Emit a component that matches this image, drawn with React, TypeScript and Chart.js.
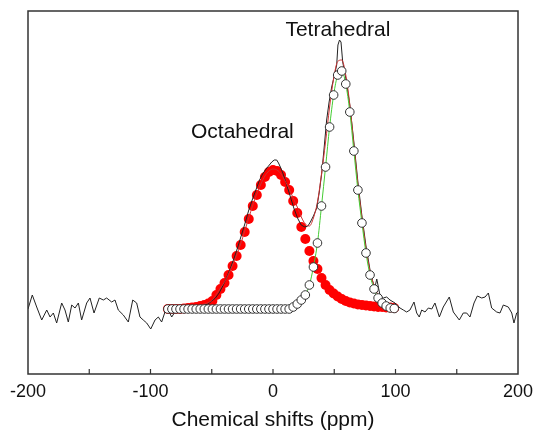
import React, { useEffect, useRef } from 'react';
import { Chart, registerables } from 'chart.js';
Chart.register(...registerables);

const FONT = "'Liberation Sans', Arial, Helvetica, sans-serif";

// Fit sample positions (ppm)
const fitPpm = [-85.8, -82.5, -79.2, -75.9, -72.6, -69.3, -66, -62.7, -59.4, -56.1, -52.8, -49.5, -46.2, -42.9, -39.6, -36.3, -33, -29.7, -26.4, -23.1, -19.8, -16.5, -13.2, -9.9, -6.6, -3.3, 0, 3.3, 6.6, 9.9, 13.2, 16.5, 19.8, 23.1, 26.4, 29.7, 33, 36.3, 39.6, 42.9, 46.2, 49.5, 52.8, 56.1, 59.4, 62.7, 66, 69.3, 72.6, 75.9, 79.2, 82.5, 85.8, 89.1, 92.4, 95.7, 99];

// Octahedral component (filled red dots)
const octahedral = [1, 1, 1, 1, 1.5, 2, 2.5, 3, 4, 5, 6.5, 9, 15, 21, 27, 35, 44, 54, 65, 78, 91, 104, 115, 125, 133, 138, 140, 139, 135, 128, 120, 109, 97, 83, 71, 59, 49, 41, 32, 25, 20, 16.5, 13.5, 11, 9, 7.5, 6.5, 5.5, 5, 4.5, 4, 3.5, 3, 3, 2.5, 2.5, 2];

// Tetrahedral component (open circles)
const tetrahedral = [1, 1, 1, 1, 1, 1, 1, 1, 1, 1, 1, 1, 1, 1, 1, 1, 1, 1, 1, 1, 1, 1, 1, 1, 1, 1, 1, 1, 1, 1, 1, 3, 6, 10, 15, 25, 43, 67, 104, 143, 183, 215, 235, 239, 226, 198, 159, 120, 87, 57, 35, 21, 12, 7, 4, 2, 1.5];

// Experimental spectrum
const expPpm = [-200, -196.5, -192.9, -188.8, -184.7, -182, -179.3, -176.6, -172.5, -169.8, -167.1, -164.3, -161.6, -158.9, -156.2, -152.1, -149.4, -146.1, -141.8, -138.5, -135.8, -131.7, -129, -126.3, -122.2, -118.1, -114.5, -111.3, -108.6, -105.9, -103.1, -99.8, -96.3, -93.6, -90.9, -88.2, -85.5, -82.7, -80,
  -77, -74, -71, -68, -65, -62, -59, -56, -53, -50, -47, -44, -41, -38, -35, -32, -29, -26, -23, -20, -17, -14, -11, -8, -5, -3, -1, 1, 3, 4.5, 6, 8, 11, 14, 17, 20, 23, 26, 28.5, 30.5, 33, 35.7, 37.8, 39.8, 41.8, 43.8, 45.8, 47.9, 50, 52, 53, 54.3, 55.5, 56.9, 59.4, 62.7, 66, 69.3, 72.6, 75.9, 79.2, 81.5, 83.3, 84.7, 85.7, 87.3, 90, 92.8, 95.5, 99.6, 103.7, 106.4,
  109.1, 111.8, 115.1, 117.3, 119.4, 121.4, 124.1, 126.8, 129.6, 132.2, 135.8, 139, 143.9, 147.2, 152.1, 155.3, 158.1, 160.8, 164.1, 166.8, 170.4, 173.1, 175.8, 178.5, 182.6, 185.3, 188, 192.1, 194.9, 196.7, 198.9, 200];
const expIntensity = [1, 15, 3, -10, 0, -7, -3, -13, 7, 0, -12, 5, 2, 7, -10, 7, 12, -3, 12, 10, 12, 8, 10, 0, -5, -12, 10, 7, -7, -10, -13, -19, -10, -7, -12, -2, 0, -7, -2,
  1, -2, 2, 0, 3, 1, 3, 5, 6, 9, 12, 17, 24, 32, 41, 51, 62, 74, 86, 99, 110, 120, 130, 137, 142, 145, 148, 150, 150, 147, 143, 137, 126, 114, 102, 92, 85, 83, 84, 88, 94, 102, 118, 137, 163, 190, 208, 223, 234, 245, 265, 270, 268, 248, 232, 205, 168, 128, 94, 64, 40, 28, 23, 31, 25, 15, 12, 13, 10, 7, 2, 0,
  -2, 0, 8, -3, -7, 0, -2, 2, 1, 7, -7, 3, 13, -2, -10, -3, -3, -7, 7, 14, 12, 13, 17, 2, -2, -3, 5, 3, -3, -13, -3, -2];

const xTicks = [-200, -100, 0, 100, 200];
const labelTexts = ['Tetrahedral', 'Octahedral'];
const labelPpm = [53, -25];
const labelIntensity = [280, 178];

const pts = (xs: number[], ys: number[]) => xs.map((x, i) => ({ x, y: ys[i] }));

const framePlugin = {
  id: 'frame',
  afterDraw(chart: any) {
    const { ctx, chartArea: a, scales } = chart;
    ctx.save();
    ctx.strokeStyle = '#333';
    ctx.lineWidth = 1.5;
    ctx.strokeRect(a.left, a.top, a.right - a.left, a.bottom - a.top);
    // tick marks
    ctx.lineWidth = 1.2;
    for (let v = -150; v <= 150; v += 50) {
      const px = scales.x.getPixelForValue(v);
      ctx.beginPath();
      ctx.moveTo(px, a.bottom);
      ctx.lineTo(px, a.bottom - 5);
      ctx.stroke();
    }
    // annotations
    ctx.fillStyle = '#111';
    ctx.font = `21px ${FONT}`;
    ctx.textAlign = 'center';
    ctx.textBaseline = 'middle';
    labelTexts.forEach((t, i) => {
      ctx.fillText(t, scales.x.getPixelForValue(labelPpm[i]), scales.y.getPixelForValue(labelIntensity[i]));
    });
    ctx.restore();
  },
};

export default function App() {
  const ref = useRef<HTMLCanvasElement>(null);
  useEffect(() => {
    document.body.style.margin = '0';
    const sum = octahedral.map((v, i) => v + tetrahedral[i]);
    const chart = new Chart(ref.current!, {
      type: 'scatter',
      data: {
        datasets: [
          {
            label: 'tetra',
            data: pts(fitPpm, tetrahedral),
            showLine: false,
            pointRadius: 4.3,
            pointBackgroundColor: '#ffffff',
            pointBorderColor: '#333333',
            pointBorderWidth: 1,
            order: 0,
          },
          {
            label: 'tetraLine',
            data: pts(fitPpm, tetrahedral),
            showLine: true,
            borderColor: '#44cc33',
            borderWidth: 1,
            pointRadius: 0,
            tension: 0.4,
            cubicInterpolationMode: 'monotone',
            order: 1,
          },
          {
            label: 'sum',
            data: pts(fitPpm, sum),
            showLine: true,
            borderColor: '#cc3333',
            borderWidth: 1,
            pointRadius: 0,
            tension: 0.4,
            cubicInterpolationMode: 'monotone',
            order: 2,
          },
          {
            label: 'exp',
            data: pts(expPpm, expIntensity),
            showLine: true,
            borderColor: '#222222',
            borderWidth: 1,
            pointRadius: 0,
            tension: 0,
            order: 3,
          },
          {
            label: 'octa',
            data: pts(fitPpm, octahedral),
            showLine: false,
            pointRadius: 5,
            pointBackgroundColor: '#ff0000',
            pointBorderWidth: 0,
            order: 4,
          },
        ] as any,
      },
      options: {
        animation: false,
        responsive: false,
        devicePixelRatio: 1,
        events: [],
        layout: { padding: { left: 28, right: 16, top: 11, bottom: 0 } },
        plugins: { legend: { display: false }, tooltip: { enabled: false } },
        scales: {
          x: {
            type: 'linear',
            min: -200,
            max: 200,
            afterFit: (s: any) => { s.height = 61; s.paddingLeft = 0; s.paddingRight = 0; },
            afterBuildTicks: (s: any) => { s.ticks = xTicks.map((v) => ({ value: v })); },
            grid: { display: false, drawTicks: false },
            border: { display: false },
            ticks: { color: '#111', font: { family: FONT, size: 18 }, padding: 7, maxRotation: 0, autoSkip: false },
            title: { display: true, text: 'Chemical shifts (ppm)', color: '#111', font: { family: FONT, size: 21 }, padding: { top: 0, bottom: 2 } },
          },
          y: { type: 'linear', display: false, min: -64, max: 299 },
        },
      } as any,
      plugins: [framePlugin],
    });
    return () => chart.destroy();
  }, []);
  return (
    <div style={{ position: 'fixed', left: 0, top: 0, width: 534, height: 435, background: '#fff' }}>
      <canvas ref={ref} width={534} height={435} style={{ width: 534, height: 435, display: 'block' }} />
    </div>
  );
}
